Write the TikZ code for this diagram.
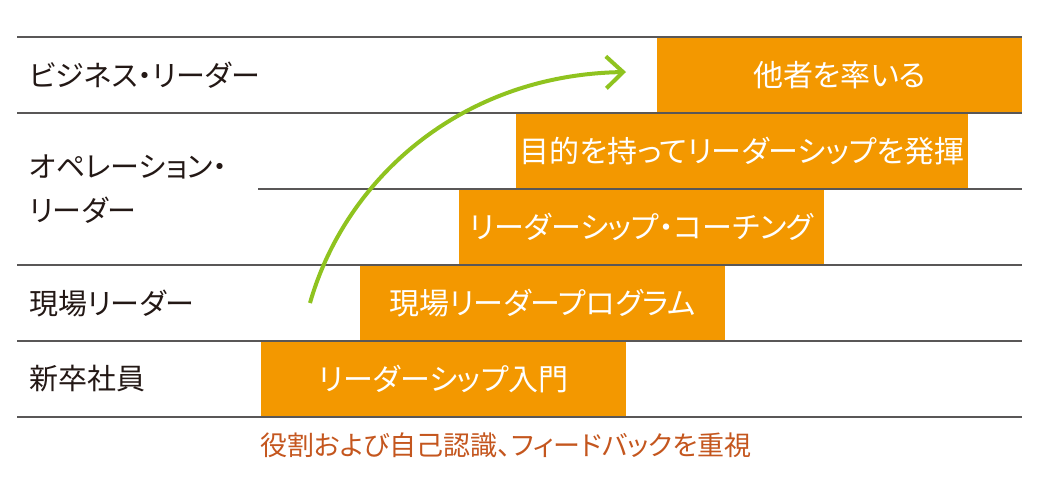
\documentclass[tikz,border=0pt]{standalone}
\usepackage{fontspec}
\setmainfont[RawFeature=+palt]{Noto Sans CJK JP}
\usetikzlibrary{arrows.meta}
\definecolor{boxorange}{HTML}{F39800}
\definecolor{rulegray}{HTML}{595757}
\definecolor{arrowgreen}{HTML}{8FC31F}
\definecolor{notebrown}{HTML}{C4561E}
\definecolor{labelblack}{HTML}{231815}

\begin{document}
\begin{tikzpicture}[x=1pt,y=-1pt,
    course/.style={fill=boxorange,text=white,inner sep=0pt,anchor=north west,
      minimum height=76pt,font=\fontsize{30}{34}\selectfont},
    level/.style={anchor=west,text=labelblack,inner sep=0pt,align=left,
      font=\fontsize{29}{44}\selectfont},
    rule/.style={rulegray,line width=2pt}]
          \useasboundingbox (0,0) rectangle (1054,488);
          % programmes
          \node[course,minimum width=365pt] (lead) at (657,37) {他者を率いる};
          \node[course,minimum width=452pt] (purpose) at (516,113) {目的を持ってリーダーシップを発揮};
          \node[course,minimum width=365pt] (coach) at (459,189) {リーダーシップ・コーチング};
          \node[course,minimum width=365pt] (field) at (360,265) {現場リーダープログラム};
          \node[course,minimum width=365pt] (intro) at (261,341) {リーダーシップ入門};
          % rows
          \foreach \y in {37,113,265,341,417}
            \draw[rule] (17,\y)--(1022,\y);
          \draw[rule] (258,189)--(1022,189);
          % levels
          \node[level] (business) at (29,75) {ビジネス・リーダー};
          \node[level] (operation) at (29,189) {オペレーション・\\リーダー};
          \node[level] (fieldlead) at (29,303) {現場リーダー};
          \node[level] (newhire) at (29,379) {新卒社員};
          \node[text=notebrown,inner sep=0pt,font=\fontsize{27}{30}\selectfont] (note) at (506,445) {役割および自己認識、フィードバックを重視};
          % growth arrow
          \coordinate (rise) at (310,303);
          \coordinate (top) at (626,72);
          \draw[arrowgreen,line width=4pt,-{Straight Barb[length=17pt,width=32pt]}] (rise) .. controls (345,180) and (460,75) .. (top);
        \end{tikzpicture}
\end{document}
